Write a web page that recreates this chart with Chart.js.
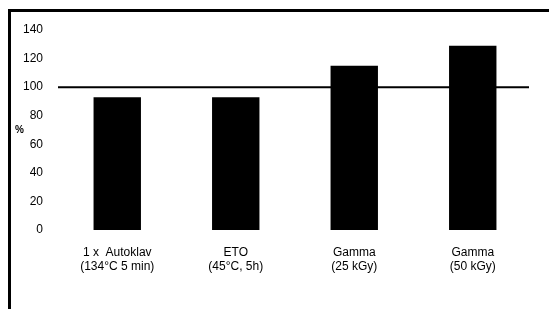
<!DOCTYPE html>
<html><head><meta charset="utf-8">
<script src="https://cdn.jsdelivr.net/npm/chart.js@4/dist/chart.umd.min.js"></script>
<style>
html,body{margin:0;padding:0;background:#fff;}
#wrap{position:relative;width:549px;height:309px;overflow:hidden;}
#frame{position:absolute;left:8px;top:9px;width:560px;height:320px;border-top:3px solid #000;border-left:3px solid #000;box-sizing:border-box;}
canvas{position:absolute;left:0;top:0;}
</style></head>
<body><div id="wrap"><div id="frame"></div><canvas id="c" width="549" height="309"></canvas></div>
<script>
const categories = [["1 x  Autoklav","(134°C 5 min)"],["ETO","(45°C, 5h)"],["Gamma","(25 kGy)"],["Gamma","(50 kGy)"]];
const values = [93, 93, 115, 129];
const referenceLevel = [100];
const yTicks = [0, 20, 40, 60, 80, 100, 120, 140];
const yAxisLabel = "%";

const refLine = {
  id:'refLine',
  afterDatasetsDraw(chart){
    const {ctx, chartArea, scales} = chart;
    const y = scales.y.getPixelForValue(referenceLevel[0]);
    ctx.save();
    ctx.strokeStyle = '#000'; ctx.lineWidth = 2;
    ctx.beginPath(); ctx.moveTo(chartArea.left, y); ctx.lineTo(chartArea.right - 3, y); ctx.stroke();
    ctx.fillStyle = '#000'; ctx.font = 'bold 10px "Liberation Sans", Arial, sans-serif';
    ctx.textAlign = 'left'; ctx.textBaseline = 'middle';
    ctx.fillText(yAxisLabel, 15, scales.y.getPixelForValue(70));
    ctx.restore();
  }
};

new Chart(document.getElementById('c'), {
  type:'bar',
  data:{labels:categories, datasets:[{data:values, backgroundColor:'#000', borderWidth:0, barPercentage:0.8, categoryPercentage:0.5}]},
  options:{
    responsive:false, animation:false,
    layout:{padding:{top:30,right:17,left:0,bottom:0}},
    plugins:{legend:{display:false}, tooltip:{enabled:false}},
    scales:{
      x:{grid:{display:false, drawTicks:false}, border:{display:false},
         ticks:{color:'#000', font:{family:'"Liberation Sans", Arial, sans-serif', size:12}, padding:15, maxRotation:0, autoSkip:false},
         afterFit(s){ s.height = 79; }},
      y:{min:0, max:140, grid:{display:false, drawTicks:false}, border:{display:false},
         afterBuildTicks(s){ s.ticks = yTicks.map(v=>({value:v})); },
         ticks:{color:'#000', font:{family:'"Liberation Sans", Arial, sans-serif', size:12}, padding:15},
         afterFit(s){ s.width = 58; }}
    }
  },
  plugins:[refLine]
});
</script></body></html>
